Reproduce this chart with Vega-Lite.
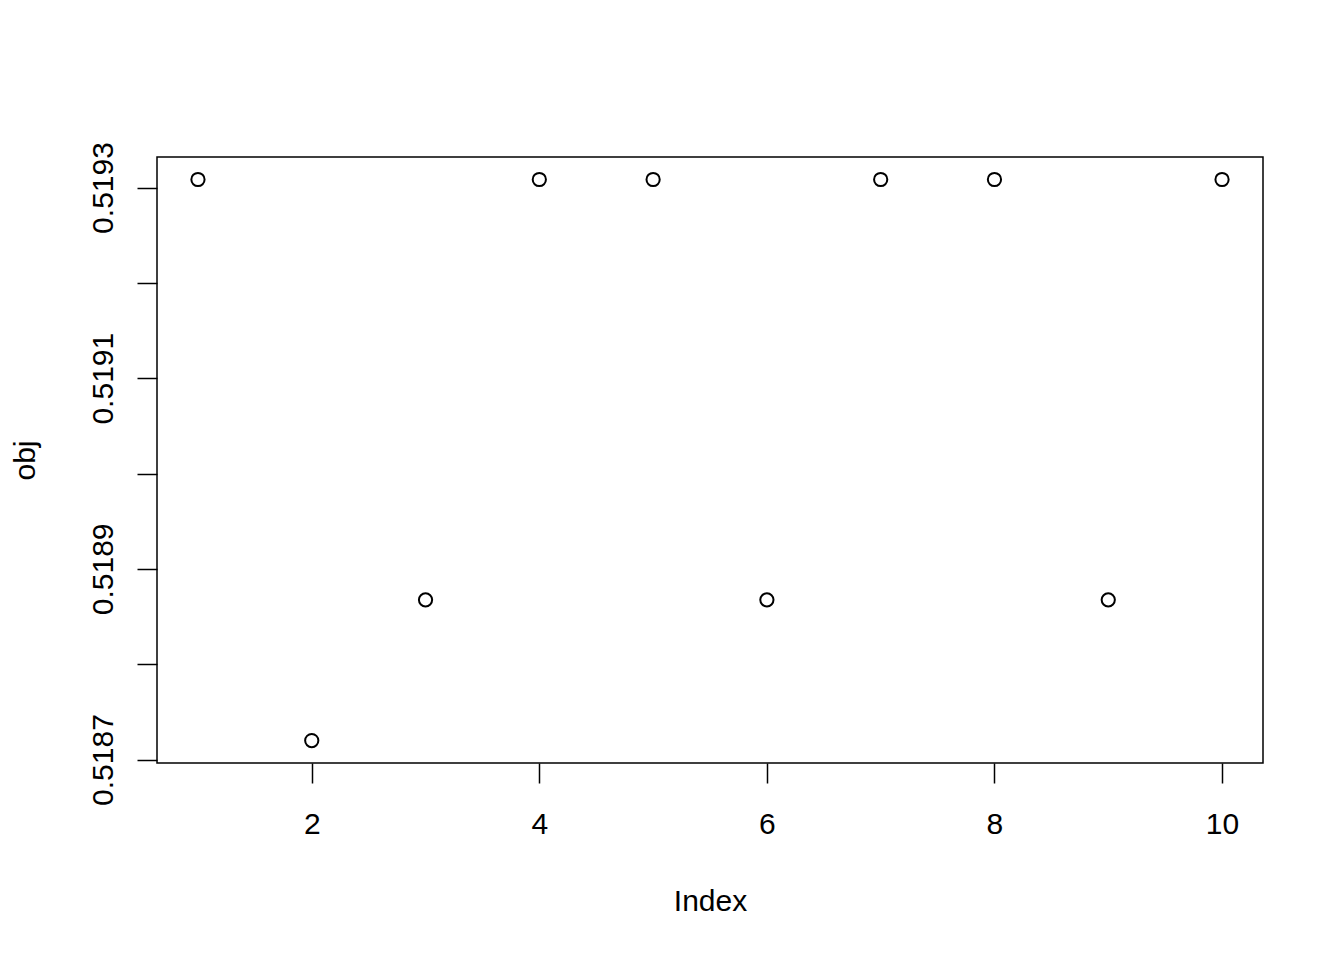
{
  "$schema": "https://vega.github.io/schema/vega-lite/v6.json",
  "width": 1106,
  "height": 606,
  "autosize": {"type": "none"},
  "padding": {"left": 157, "top": 157, "right": 81, "bottom": 197},
  "background": "white",
  "config": {
    "view": {"stroke": "black", "strokeWidth": 1.5},
    "font": "Liberation Sans",
    "axis": {
      "domain": false,
      "grid": false,
      "ticks": true,
      "tickColor": "black",
      "tickWidth": 1.5,
      "tickSize": 20,
      "labelFont": "Liberation Sans",
      "labelFontSize": 30,
      "labelColor": "black",
      "titleFont": "Liberation Sans",
      "titleFontSize": 30,
      "titleFontWeight": "normal",
      "titleColor": "black",
      "labelOverlap": false,
      "labelFlush": false
    }
  },
  "data": {
    "values": [
      {"Index": 1, "obj": 0.5193084},
      {"Index": 2, "obj": 0.5187199},
      {"Index": 3, "obj": 0.5188675},
      {"Index": 4, "obj": 0.5193084},
      {"Index": 5, "obj": 0.5193084},
      {"Index": 6, "obj": 0.5188675},
      {"Index": 7, "obj": 0.5193084},
      {"Index": 8, "obj": 0.5193084},
      {"Index": 9, "obj": 0.5188675},
      {"Index": 10, "obj": 0.5193084}
    ]
  },
  "mark": {"type": "point", "shape": "circle", "filled": false, "color": "black", "strokeWidth": 2, "size": 175, "opacity": 1},
  "encoding": {
    "x": {
      "field": "Index",
      "type": "quantitative",
      "scale": {"domain": [0.64, 10.36], "nice": false, "zero": false},
      "axis": {
        "title": "Index",
        "values": [2, 4, 6, 8, 10],
        "labelBaseline": "alphabetic",
        "labelAlign": "center",
        "labelPadding": 50,
        "titleX": 553,
        "titleY": 147,
        "titleBaseline": "alphabetic",
        "titleAlign": "center"
      }
    },
    "y": {
      "field": "obj",
      "type": "quantitative",
      "scale": {"domain": [0.5186964, 0.519332], "nice": false, "zero": false},
      "axis": {
        "title": "obj",
        "values": [0.5187, 0.5188, 0.5189, 0.519, 0.5191, 0.5192, 0.5193],
        "format": ".4f",
        "labelExpr": "indexof(['0.5187','0.5189','0.5191','0.5193'], datum.label) >= 0 ? datum.label : ''",
        "labelAngle": 270,
        "labelAlign": "center",
        "labelBaseline": "alphabetic",
        "labelPadding": 25,
        "titleAngle": 270,
        "titleX": -123,
        "titleY": 303,
        "titleAlign": "center",
        "titleBaseline": "alphabetic"
      }
    }
  }
}
